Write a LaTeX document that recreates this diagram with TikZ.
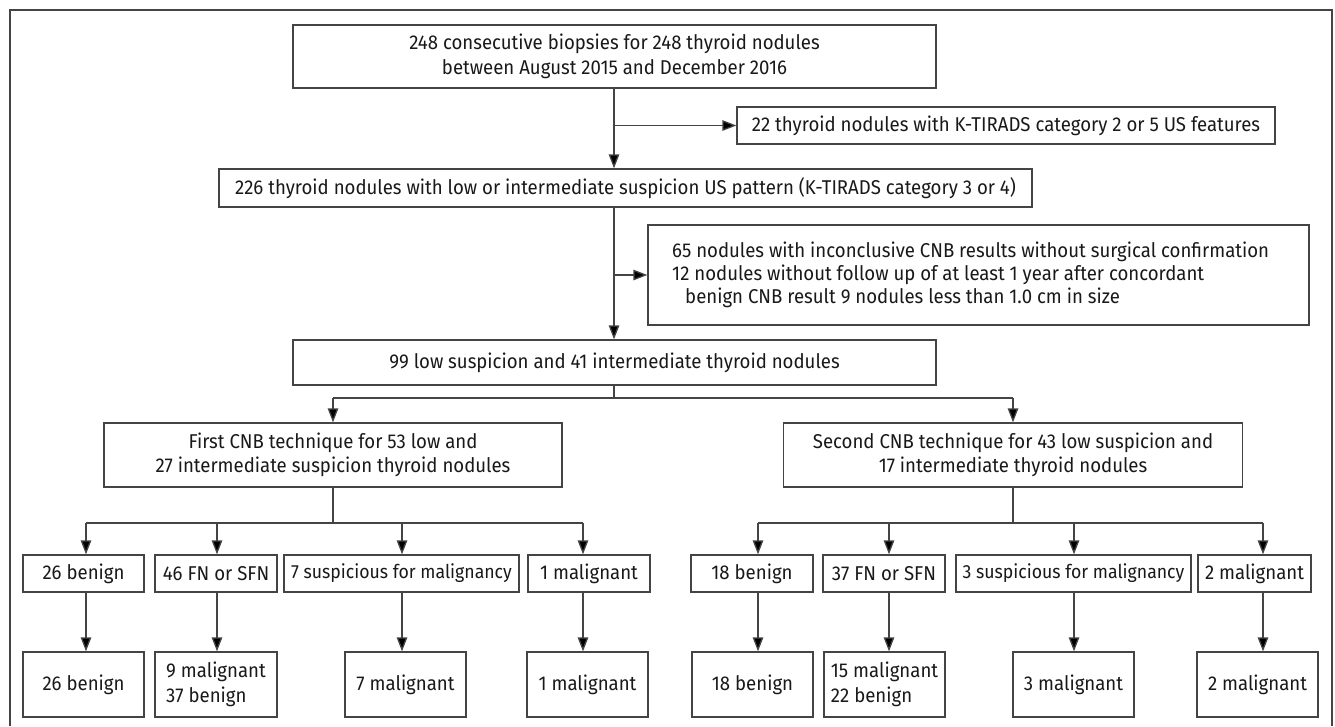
\documentclass[tikz,border=0pt]{standalone}
\usepackage{fontspec}
\setmainfont{Fira Sans}[FakeStretch=0.93]
\usetikzlibrary{arrows.meta}
\definecolor{linec}{HTML}{444444}
\tikzset{
  box/.style={draw=linec, line width=1.3pt, fill=white, inner sep=0pt, align=center, font=\fontsize{20}{24.5}\selectfont, text=black!90},
  tight/.style={font=\fontsize{19}{24}\selectfont},
  arr/.style={draw=linec, line width=1.3pt, -{Triangle[width=10.5pt,length=14pt,fill=black]}},
  ln/.style={draw=linec, line width=1.3pt},
}
\begin{document}
\begin{tikzpicture}[x=1pt,y=-1pt]
\useasboundingbox (0,0) rectangle (1335,726);
\draw[draw=linec, line width=1.3pt] (10,726) -- (10,10) -- (1332,10) -- (1332,726);

\node[box, minimum width=643pt, minimum height=63pt] (top) at (614.5,56.5) {248 consecutive biopsies for 248 thyroid nodules\\between August 2015 and December 2016};
\node[box, minimum width=538pt, minimum height=37pt] (k22) at (1006,125.5) {22 thyroid nodules with K-TIRADS category 2 or 5 US features};
\node[box, minimum width=813pt, minimum height=38pt] (k226) at (625.5,188) {226 thyroid nodules with low or intermediate suspicion US pattern (K-TIRADS category 3 or 4)};
\node[box, minimum width=661pt, minimum height=100pt] (excl) at (978.5,275) {};
\node[font=\fontsize{20}{23}\selectfont, text=black!90, align=left, anchor=west, inner sep=0pt] (exclt) at (672,275) {65 nodules with inconclusive CNB results without surgical confirmation\\12 nodules without follow up of at least 1 year after concordant\\\hspace*{13pt}benign CNB result 9 nodules less than 1.0 cm in size};
\node[box, minimum width=643pt, minimum height=45pt] (k99) at (614.5,362.5) {99 low suspicion and 41 intermediate thyroid nodules};
\node[box, minimum width=458pt, minimum height=64pt] (first) at (333,455) {First CNB technique for 53 low and\\27 intermediate suspicion thyroid nodules};
\node[box, minimum width=459pt, minimum height=64pt] (second) at (1013,455) {Second CNB technique for 43 low suspicion and\\17 intermediate thyroid nodules};

% row 3
\node[box, minimum width=121pt, minimum height=37pt] (a1) at (83.5,573.5) {26 benign};
\node[box, minimum width=122pt, minimum height=37pt] (a2) at (216,573.5) {46 FN or SFN};
\node[box, tight, minimum width=235pt, minimum height=37pt] (a3) at (401.5,573.5) {7 suspicious for malignancy};
\node[box, minimum width=122pt, minimum height=37pt] (a4) at (589,573.5) {1 malignant};
\node[box, minimum width=122pt, minimum height=37pt] (b1) at (752,573.5) {18 benign};
\node[box, minimum width=122pt, minimum height=37pt] (b2) at (884,573.5) {37 FN or SFN};
\node[box, tight, minimum width=235pt, minimum height=37pt] (b3) at (1073.5,573.5) {3 suspicious for malignancy};
\node[box, minimum width=113pt, minimum height=37pt] (b4) at (1254.5,573.5) {2 malignant};

% row 4
\node[box, minimum width=121pt, minimum height=65pt] (c1) at (83.5,684.5) {26 benign};
\node[box, minimum width=122pt, minimum height=65pt, align=left] (c2) at (216,684.5) {9 malignant\\37 benign};
\node[box, minimum width=121pt, minimum height=65pt] (c3) at (405.5,684.5) {7 malignant};
\node[box, minimum width=121pt, minimum height=65pt] (c4) at (587.5,684.5) {1 malignant};
\node[box, minimum width=121pt, minimum height=65pt] (d1) at (752.5,684.5) {18 benign};
\node[box, minimum width=121pt, minimum height=65pt, align=left] (d2) at (884.5,684.5) {15 malignant\\22 benign};
\node[box, minimum width=121pt, minimum height=65pt] (d3) at (1073.5,684.5) {3 malignant};
\node[box, minimum width=121pt, minimum height=65pt] (d4) at (1257.5,684.5) {2 malignant};

% spine
\coordinate (sp) at (614,88);
\draw[arr] (sp) -- (sp |- k226.north);
\draw[arr] (sp |- k22.west) -- (k22.west);
\draw[arr] (sp |- k226.south) -- (sp |- k99.north);
\draw[arr] (sp |- excl.west) -- (excl.west);

% split to techniques
\coordinate (bus) at (614,398);
\draw[ln] (sp |- k99.south) -- (bus);
\draw[ln] (first.north |- bus) -- (second.north |- bus);
\draw[arr] (first.north |- bus) -- (first.north);
\draw[arr] (second.north |- bus) -- (second.north);

% left group
\coordinate (l1) at (86,523);
\coordinate (l2) at (217,523);
\coordinate (l3) at (402,523);
\coordinate (l4) at (583,523);
\draw[ln] (first.south) -- (first.south |- l1);
\draw[ln] (l1) -- (l4);
\foreach \c/\a/\b in {l1/a1/c1, l2/a2/c2, l3/a3/c3, l4/a4/c4}{
  \draw[arr] (\c) -- (\c |- \a.north);
  \draw[arr] (\c |- \a.south) -- (\c |- \b.north);
}

% right group
\coordinate (r1) at (758,523);
\coordinate (r2) at (889,523);
\coordinate (r3) at (1074,523);
\coordinate (r4) at (1263,523);
\draw[ln] (second.south) -- (second.south |- r1);
\draw[ln] (r1) -- (r4);
\foreach \c/\a/\b in {r1/b1/d1, r2/b2/d2, r3/b3/d3, r4/b4/d4}{
  \draw[arr] (\c) -- (\c |- \a.north);
  \draw[arr] (\c |- \a.south) -- (\c |- \b.north);
}
\end{tikzpicture}
\end{document}
